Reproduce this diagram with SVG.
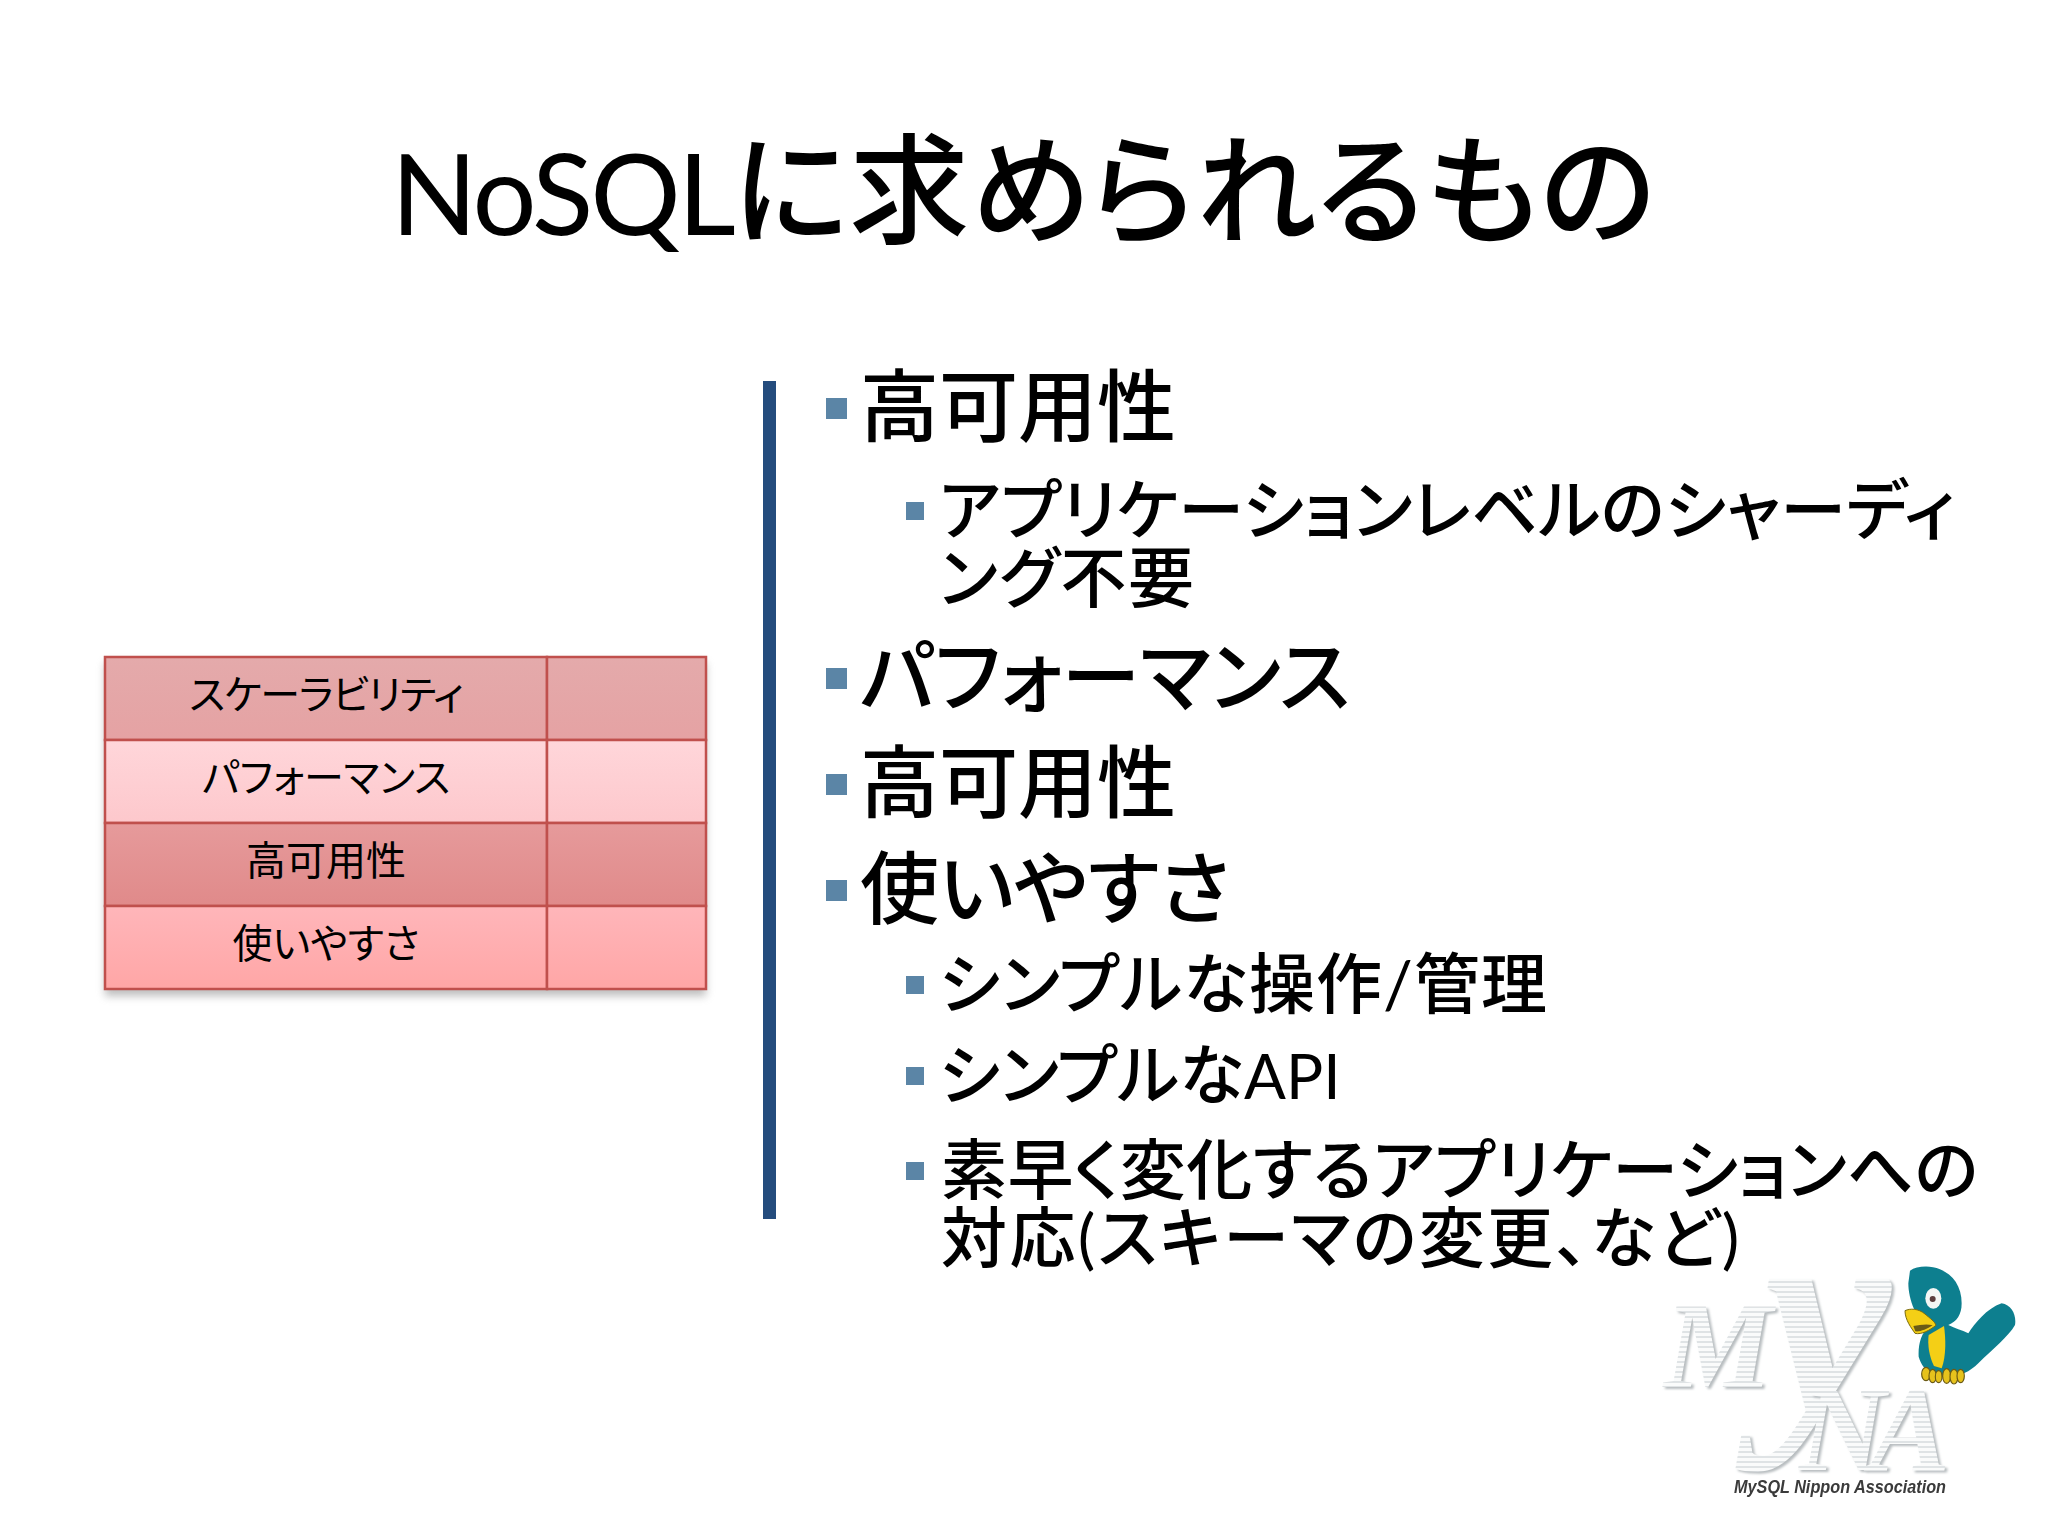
<svg xmlns="http://www.w3.org/2000/svg" width="2048" height="1536" viewBox="0 0 2048 1536">
<style>
text{font-family:Lato,"Noto Sans CJK JP",sans-serif;fill:#000;font-feature-settings:"palt";font-weight:500}
.lat{font-weight:400}
.t{font-size:120px}
.a{font-size:79px}
.b{font-size:66px}
.c{font-size:40px;text-anchor:middle;font-weight:400}
.sq{fill:#5b85a6}
.cell{stroke:#c0504d;stroke-width:2.5}
.logo{font-family:"Liberation Serif",serif;font-weight:700;font-style:italic;fill:url(#stripes);filter:url(#ds)}
</style>
<defs>
<linearGradient id="r1" x1="0" y1="0" x2="0" y2="1"><stop offset="0" stop-color="#e4aaab"/><stop offset="1" stop-color="#e5a2a3"/></linearGradient>
<linearGradient id="r2" x1="0" y1="0" x2="0" y2="1"><stop offset="0" stop-color="#ffd6da"/><stop offset="1" stop-color="#fdc8cc"/></linearGradient>
<linearGradient id="r3" x1="0" y1="0" x2="0" y2="1"><stop offset="0" stop-color="#e69a9b"/><stop offset="1" stop-color="#e08a8a"/></linearGradient>
<linearGradient id="r4" x1="0" y1="0" x2="0" y2="1"><stop offset="0" stop-color="#ffb6ba"/><stop offset="1" stop-color="#ffa6a6"/></linearGradient>
<filter id="sh" x="-5%" y="-5%" width="110%" height="115%"><feGaussianBlur stdDeviation="4"/></filter>
<filter id="ds" x="-10%" y="-10%" width="125%" height="125%"><feGaussianBlur in="SourceGraphic" stdDeviation="0.6" result="b"/><feDropShadow in="b" dx="2.5" dy="2" stdDeviation="1.2" flood-color="#b8bdc0"/></filter>
<filter id="soft" x="-10%" y="-10%" width="120%" height="140%"><feGaussianBlur stdDeviation="0.7"/></filter>
<filter id="soft2" x="-10%" y="-10%" width="120%" height="120%"><feGaussianBlur stdDeviation="1.6"/></filter>
<pattern id="stripes" width="6" height="5" patternUnits="userSpaceOnUse"><rect width="6" height="5" fill="#fafbfb"/><rect width="6" height="2" y="1" fill="#dfe3e5"/></pattern>
</defs>
<rect width="2048" height="1536" fill="#fff"/>

<g id="title"><text class="t" x="391" y="235"><tspan class="lat" font-size="113" letter-spacing="-3">NoSQL</tspan><tspan letter-spacing="1">に求められるもの</tspan></text></g>

<g id="table">
<rect x="105" y="663" width="601" height="333" fill="#888" opacity=".55" filter="url(#sh)"/>
<rect class="cell" x="105" y="657" width="442" height="83" fill="url(#r1)"/>
<rect class="cell" x="547" y="657" width="159" height="83" fill="url(#r1)"/>
<rect class="cell" x="105" y="740" width="442" height="83" fill="url(#r2)"/>
<rect class="cell" x="547" y="740" width="159" height="83" fill="url(#r2)"/>
<rect class="cell" x="105" y="823" width="442" height="83" fill="url(#r3)"/>
<rect class="cell" x="547" y="823" width="159" height="83" fill="url(#r3)"/>
<rect class="cell" x="105" y="906" width="442" height="83" fill="url(#r4)"/>
<rect class="cell" x="547" y="906" width="159" height="83" fill="url(#r4)"/>
<text class="c" x="326" y="709" letter-spacing="-1">スケーラビリティ</text>
<text class="c" x="326" y="792">パフォーマンス</text>
<text class="c" x="326" y="875">高可用性</text>
<text class="c" x="326" y="958">使いやすさ</text>
</g>

<rect id="divider" x="763" y="381" width="13" height="838" fill="#244c7d"/>

<g id="bullets">
<rect class="sq" x="826" y="398" width="21" height="21"/>
<text class="a" x="860" y="436">高可用性</text>
<rect class="sq" x="906" y="502" width="18" height="18"/>
<text class="b" x="939" y="534" letter-spacing=".4">アプリケーションレベルのシャーディ</text>
<text class="b" x="939" y="602" letter-spacing="1.5">ング不要</text>
<rect class="sq" x="826" y="668" width="21" height="21"/>
<text class="a" x="860" y="706">パフォーマンス</text>
<rect class="sq" x="826" y="774" width="21" height="21"/>
<text class="a" x="860" y="812">高可用性</text>
<rect class="sq" x="826" y="880" width="21" height="21"/>
<text class="a" x="860" y="918">使いやすさ</text>
<rect class="sq" x="906" y="976" width="18" height="18"/>
<text class="b" x="939" y="1008" letter-spacing="1"><tspan>シンプルな操作</tspan><tspan class="lat">/</tspan>管理</text>
<rect class="sq" x="906" y="1067" width="18" height="18"/>
<text class="b" x="939" y="1099">シンプルな<tspan class="lat" font-size="62">API</tspan></text>
<rect class="sq" x="906" y="1162" width="18" height="18"/>
<text class="b" x="941" y="1194" letter-spacing=".5">素早く変化するアプリケーションへの</text>
<text class="b" x="941" y="1262" letter-spacing="2.4">対応<tspan class="lat">(</tspan>スキーマの変更、など<tspan class="lat">)</tspan></text>
</g>

<g id="logo">
<text class="logo" x="1664" y="1387" font-size="122">M</text>
<text class="logo" x="1764" y="1410" font-size="286">y</text>
<text class="logo" x="1799" y="1470" font-size="120">N</text>
<text class="logo" x="1870" y="1470" font-size="120">A</text>
<text x="1734" y="1493" font-size="18" textLength="212" lengthAdjust="spacingAndGlyphs" style="font-family:'Liberation Sans',sans-serif;font-weight:700;font-style:italic;fill:#3a3a3a" filter="url(#soft)">MySQL Nippon Association</text>
<g transform="translate(1640 1240) scale(.33333)" filter="url(#soft2)">
<path fill="#0f7f8f" d="M810 92C830 78 870 75 900 88C940 105 965 140 965 190C965 225 950 245 925 255C945 265 965 270 985 280C1005 250 1040 205 1085 190C1115 195 1130 225 1125 255C1105 290 1060 325 1015 370C990 395 960 410 920 412C880 410 850 395 836 350C834 310 845 280 865 260C830 240 805 180 805 130Z"/>
<path fill="#f4cf12" stroke="#7a6a10" stroke-width="3" d="M795 212C810 205 835 205 855 222C870 235 885 245 888 256C870 270 845 285 825 280C815 265 795 240 795 212Z"/>
<path fill="#6b5a15" d="M820 258C840 255 860 250 878 256C860 268 840 276 826 274Z"/>
<path fill="#f4cf12" d="M866 285L912 258C918 300 918 350 905 385L882 378C868 350 862 315 866 285Z"/>
<ellipse cx="880" cy="175" rx="24" ry="31" fill="#f4f6f4"/><circle cx="878" cy="177" r="9" fill="#5b3d3d"/>
<g fill="#e6c21d" stroke="#6b5a15" stroke-width="3.5">
<ellipse cx="858" cy="402" rx="13" ry="20"/><ellipse cx="878" cy="408" rx="11" ry="20"/><ellipse cx="896" cy="410" rx="10" ry="18"/>
<ellipse cx="920" cy="408" rx="12" ry="22"/><ellipse cx="942" cy="410" rx="12" ry="22"/><ellipse cx="962" cy="408" rx="11" ry="20"/>
</g>
</g>
</g>
</svg>
